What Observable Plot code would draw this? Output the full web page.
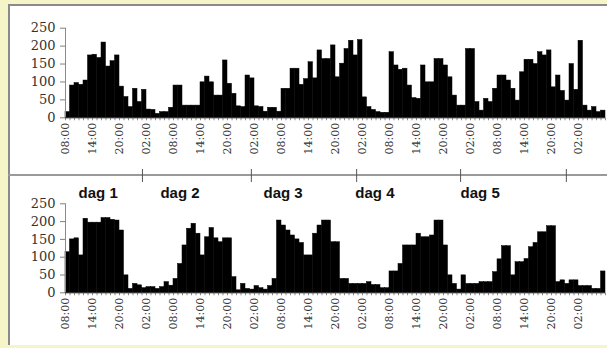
<!DOCTYPE html>
<html><head><meta charset="utf-8">
<script src="https://cdn.jsdelivr.net/npm/d3@7"></script>
<script src="https://cdn.jsdelivr.net/npm/@observablehq/plot@0.6"></script>
<style>
html,body{margin:0;padding:0;background:#f5f5c8;width:607px;height:348px;overflow:hidden;}
#box{position:absolute;left:8px;top:4px;width:620px;height:341px;background:#fff;border-top:2px solid #8a8a8a;border-left:2px solid #8a8a8a;box-sizing:border-box;}
#divline{position:absolute;left:8px;top:174px;width:600px;height:2px;background:#9a9a9a;}
.layer{position:absolute;left:0;}
</style></head><body>
<div id="box"></div>
<div id="divline"></div>
<div id="top" class="layer" style="top:0px"></div>
<div id="mid" class="layer" style="top:168px"></div>
<div id="bot" class="layer" style="top:176px"></div>
<script>
// hourly counts, starting 08:00 on day 1 (120 hours)
const topValues = [
  16, 90, 97, 92, 104, 174, 176, 167, 210, 143,
  158, 174, 87, 58, 30, 81, 44, 78, 23, 22,
  11, 16, 16, 28, 90, 90, 34, 34, 34, 34,
  99, 115, 99, 62, 62, 160, 95, 67, 32, 30,
  118, 110, 32, 30, 17, 28, 28, 17, 81, 81,
  137, 137, 92, 108, 155, 110, 188, 164, 164, 202,
  113, 151, 192, 215, 174, 217, 57, 30, 22, 16,
  14, 14, 183, 146, 134, 137, 90, 55, 53, 146,
  99, 99, 164, 164, 146, 113, 62, 34, 34, 192,
  192, 44, 20, 53, 44, 81, 118, 118, 104, 81,
  48, 127, 162, 162, 150, 183, 174, 188, 85, 118,
  75, 48, 150, 78, 215, 34, 20, 30, 16, 20
];
const bottomValues = [
  114, 150, 153, 105, 208, 197, 197, 197, 210, 210,
  205, 203, 175, 49, 11, 25, 21, 13, 16, 16,
  11, 16, 30, 20, 39, 81, 133, 180, 194, 166,
  105, 156, 182, 153, 142, 153, 153, 44, 7, 25,
  11, 9, 19, 13, 9, 19, 39, 203, 189, 175,
  161, 150, 140, 105, 105, 166, 189, 203, 203, 142,
  142, 39, 39, 25, 25, 25, 25, 30, 22, 22,
  13, 13, 60, 60, 81, 133, 133, 133, 166, 156,
  156, 161, 203, 203, 133, 49, 25, 9, 49, 25,
  25, 25, 30, 30, 30, 58, 94, 131, 131, 49,
  86, 86, 95, 128, 140, 170, 170, 187, 187, 30,
  35, 25, 35, 35, 19, 19, 19, 11, 11, 60
];
const timeLabels = [
  "08:00","14:00","20:00","02:00",
  "08:00","14:00","20:00","02:00",
  "08:00","14:00","20:00","02:00",
  "08:00","14:00","20:00","02:00",
  "08:00","14:00","20:00","02:00"
];
const yTicks = [0, 50, 100, 150, 200, 250];
const dayLabels = ["dag 1", "dag 2", "dag 3", "dag 4", "dag 5"];
const dayLabelHours = [2.9, 21.1, 44.0, 64.4, 87.8];
const dayTickHours = [17.1, 41.3, 64.7, 87.8, 111.3];

const nHours = topValues.length;
const labelHours = timeLabels.map((_, i) => i * 6);

function panel(values, mt, mb) {
  const data = values.map((v, i) => ({h: i, v}));
  return Plot.plot({
    width: 607, height: 170,
    marginLeft: 65, marginRight: 2, marginTop: mt, marginBottom: mb,
    style: {background: "transparent", overflow: "visible", fontFamily: "DejaVu Serif", fontSize: "11px"},
    x: {domain: [0, nHours], label: null},
    y: {domain: [0, 250], label: null},
    marks: [
      Plot.rectY(data, {x1: "h", x2: d => d.h + 1, y: "v", fill: "#000", stroke: "#000", strokeWidth: 0.5}),
      Plot.axisX({ticks: d3.range(0, nHours + 1), tickSize: 3, tickFormat: () => "", stroke: "#909090", label: null}),
      Plot.axisX({ticks: labelHours, tickSize: 0, tickPadding: 5, tickRotate: -90,
                  tickFormat: d => timeLabels[Math.round(d / 6)], fill: "#333", fontSize: 11, label: null}),
      Plot.axisY({ticks: yTicks, tickSize: 5, tickPadding: 5, stroke: "#808080", fill: "#333", fontSize: 13, label: null}),
      Plot.ruleX([0], {stroke: "#8a8a8a"}),
      Plot.ruleY([0], {stroke: "#222"})
    ]
  });
}

document.getElementById("top").append(panel(topValues, 27.7, 52.7));
document.getElementById("bot").append(panel(bottomValues, 27.3, 53.7));

const mid = Plot.plot({
  width: 607, height: 34,
  marginLeft: 65, marginRight: 2, marginTop: 1, marginBottom: 20,
  style: {background: "transparent", overflow: "visible"},
  x: {domain: [0, nHours], axis: null},
  marks: [
    Plot.tickX(dayTickHours, {x: d => d, stroke: "#555", strokeWidth: 1}),
    Plot.text(dayLabels, {x: (d, i) => dayLabelHours[i], text: d => d, frameAnchor: "bottom", dy: 15,
      lineAnchor: "bottom", textAnchor: "start", fontSize: 15, fontWeight: "bold",
      fontFamily: "Liberation Sans", fill: "#111"})
  ]
});
document.getElementById("mid").append(mid);
</script>
</body></html>
